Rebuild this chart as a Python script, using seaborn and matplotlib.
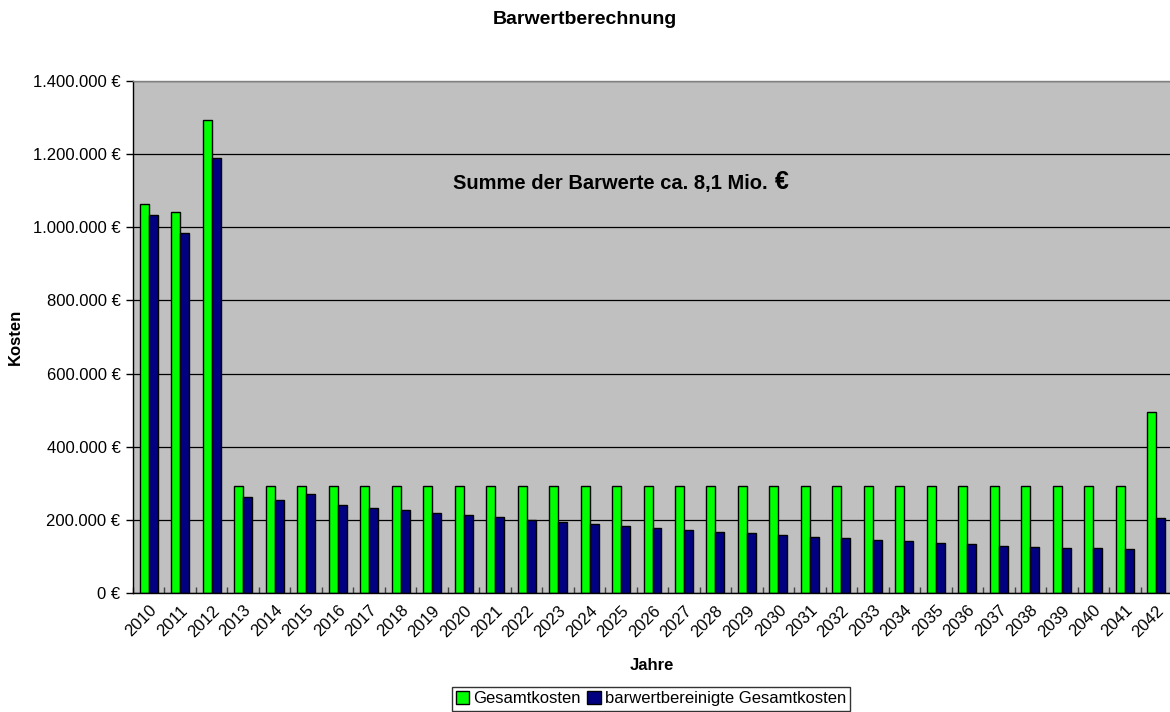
import numpy as np
import pandas as pd
import matplotlib
matplotlib.use("Agg")
import matplotlib.pyplot as plt
from matplotlib.ticker import FuncFormatter, MultipleLocator
import seaborn as sns

# Daten
jahre = [str(j) for j in range(2010, 2043)]
gesamtkosten = [1063000, 1043000, 1293000] + [293500] * 29 + [494000]
barwert = [1033000, 984000, 1190000, 262000, 254000, 270000, 240000, 233000,
           226000, 219500, 213000, 207000, 200500, 195000, 189500, 184000,
           178500, 173000, 167500, 163000, 159500, 154000, 149500, 145000,
           141000, 136500, 133000, 129500, 126000, 123000, 122000, 121000,
           204500]
reihen = ['Gesamtkosten', 'barwertbereinigte Gesamtkosten']
farben = {'Gesamtkosten': '#00FF00', 'barwertbereinigte Gesamtkosten': '#000080'}

df = pd.DataFrame({
    'Jahr': jahre * 2,
    'Kosten': gesamtkosten + barwert,
    'Reihe': [reihen[0]] * len(jahre) + [reihen[1]] * len(jahre),
})

sns.set_style('white')
plt.rcParams['font.family'] = ['Liberation Sans', 'DejaVu Sans']
plt.rcParams['text.color'] = 'black'
plt.rcParams['axes.labelcolor'] = 'black'
plt.rcParams['xtick.color'] = 'black'
plt.rcParams['ytick.color'] = 'black'

fig = plt.figure(figsize=(11.7, 7.12), dpi=100)
ax = fig.add_axes([133 / 1170, 1 - 593 / 712, 1039 / 1170, 512 / 712])
ax.set_facecolor('#C0C0C0')

sns.barplot(data=df, x='Jahr', y='Kosten', hue='Reihe', palette=farben,
            width=0.57, edgecolor='black', linewidth=1, saturation=1,
            ax=ax, legend=True)

ax.set_xlim(-0.5, len(jahre) - 0.5)
ax.set_ylim(0, 1400000)
ax.yaxis.set_major_locator(MultipleLocator(200000))
ax.yaxis.set_major_formatter(FuncFormatter(lambda v, p: f"{int(v):,}".replace(',', '.') + " €"))
ax.grid(axis='y', color='black', linewidth=0.9)
ax.set_axisbelow(True)

# Achsen
for s in ['top', 'right']:
    ax.spines[s].set_color('#808080')
    ax.spines[s].set_linewidth(1)
for s in ['left', 'bottom']:
    ax.spines[s].set_color('black')
    ax.spines[s].set_linewidth(1)

ax.tick_params(axis='y', direction='out', length=5, width=1, labelsize=12, pad=4, left=True)
ax.tick_params(axis='x', which='major', length=0, labelsize=12, pad=7)
ax.set_xticks(np.arange(-0.5, len(jahre)), minor=True)
ax.tick_params(axis='x', which='minor', direction='in', length=4, width=1, color='#404040', bottom=True)
plt.setp(ax.get_xticklabels(), rotation=45, ha='right', va='top', rotation_mode='anchor')

ax.set_xlabel('')
ax.set_ylabel('')

# Texte
fig.text(0.5, 1 - 19 / 712, 'Barwertberechnung', ha='center', va='center',
         fontsize=14, fontweight='bold')
fig.text(15 / 1170, 1 - 337 / 712, 'Kosten', rotation=90, ha='center', va='center',
         fontsize=12, fontweight='bold')
fig.text(652 / 1170, 1 - 666 / 712, 'Jahre', ha='center', va='center',
         fontsize=12, fontweight='bold')

ax.text(0.616, 0.789, 'Summe der Barwerte ca. 8,1 Mio. ', transform=ax.transAxes,
        ha='right', va='baseline', fontsize=14.5, fontweight='bold')
ax.text(0.618, 0.789, '€', transform=ax.transAxes,
        ha='left', va='baseline', fontsize=18, fontweight='bold')

# Legende
handles, labels = ax.get_legend_handles_labels()
ax.get_legend().remove()
leg = fig.legend(handles, labels, loc='upper center', bbox_to_anchor=(651 / 1170, 1 - 687 / 712),
                 ncol=2, fontsize=12, frameon=True, fancybox=False, handlelength=0.8,
                 handleheight=0.8, handletextpad=0.25, columnspacing=0.4,
                 borderpad=0.25, borderaxespad=0)
leg.get_frame().set_edgecolor('black')
leg.get_frame().set_linewidth(1)

fig.savefig('out.png', dpi=100)
